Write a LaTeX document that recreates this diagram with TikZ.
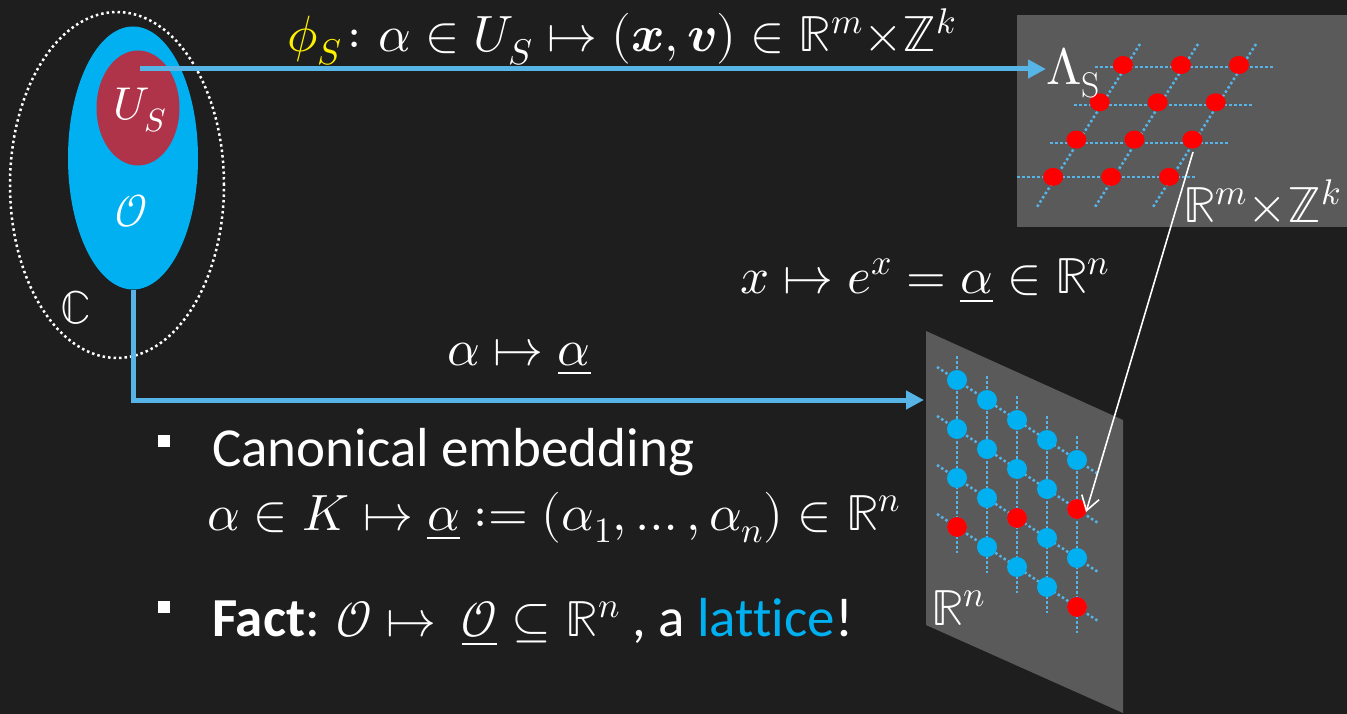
\documentclass[tikz,border=0pt]{standalone}
\usepackage{fontspec}
\usepackage{unicode-math}
\setmathfont{Latin Modern Math}
\setsansfont{Carlito}[Ligatures=NoCommon]
\usetikzlibrary{arrows.meta,shapes.geometric}
\definecolor{bg}{RGB}{30,30,30}
\definecolor{cyanb}{RGB}{0,176,240}
\definecolor{arr}{RGB}{86,180,230}
\definecolor{panel}{RGB}{90,90,90}
\definecolor{usred}{RGB}{176,52,73}
\definecolor{dotred}{RGB}{255,0,0}
\newcommand\mymath[1]{{\fontsize{51}{60}\selectfont$#1$}}
\begin{document}
\begin{tikzpicture}[x=1pt,y=-1pt,
  mathtxt/.style={text=white,inner sep=0pt,font=\fontsize{51}{60}\selectfont},
  setlab/.style={text=white,inner sep=0pt,font=\fontsize{46}{55}\selectfont},
  sanstxt/.style={text=white,inner sep=0pt,font=\sffamily\fontsize{55}{64}\selectfont},
  conn/.style={draw=arr,line width=5pt,-{Triangle[length=18pt,width=18pt]}},
  gridline/.style={draw=arr,line width=2.5pt,dash pattern=on 2.5pt off 2.5pt},
  bullet/.style={fill=white,minimum size=12pt,inner sep=0pt}]
\useasboundingbox (0,0) rectangle (1347,714);
\fill[bg] (0,0) rectangle (1347,714);
% left sets
\node[draw=white, line width=2.5pt, dash pattern=on 2.5pt off 3pt, ellipse, minimum width=214pt, minimum height=346pt, inner sep=0pt] (Cset) at (117,185) {};
\node[ellipse, fill=cyanb, minimum width=130pt, minimum height=263pt, inner sep=0pt] (O) at (133,158) {};
\node[ellipse, fill=usred, minimum width=83pt, minimum height=115pt, inner sep=0pt] (U) at (138,108) {};
\node[setlab, anchor=base west] (Ulab) at (113,120) {$U_S$};
\node[setlab, anchor=base west] (Olab) at (115,227) {$\mathcal{O}$};
\node[setlab, anchor=base west] (Clab) at (60,323) {$\mathbb{C}$};
% top-right panel
\fill[panel] (1017,15) rectangle (1347,227);
\draw[gridline] (1095,67) -- (1273,67);
\draw[gridline] (1074,105) -- (1252,105);
\draw[gridline] (1050,143) -- (1228,143);
\draw[gridline] (1017,177) -- (1195,177);
\foreach \j in {0,1,2}{\draw[gridline] (1140+58*\j,44) -- (1037+58*\j,207);}
\foreach \i in {0,...,3}{\foreach \j in {0,1,2}{\fill[dotred] (1123+58*\j-23.3*\i, 65+37.3*\i) ellipse (10 and 9);}}
\node[mathtxt, anchor=base west] (Lam) at (1046,85) {$\Lambda_{\mathrm{S}}$};
\node[mathtxt, anchor=base west] (Rmz) at (1183,223) {$\mathbb{R}^m{\times}\mathbb{Z}^k$};
% bottom-right panel
\fill[panel] (926,331) -- (1123,420) -- (1123,713) -- (926,625) -- cycle;
\foreach \j in {0,...,4}{\draw[gridline] (957+30*\j,356+20*\j) -- (957+30*\j,553+20*\j);}
\foreach \i in {0,...,3}{\draw[gridline] (937,367+49*\i) -- (1098,474+49*\i);}
\foreach \j in {0,...,4}{\foreach \i in {0,...,3}{\fill[cyanb] (957+30*\j, 380+20*\j+49*\i) circle (10);}}
\fill[dotred] (957,527) circle (10);
\fill[dotred] (1017,518) circle (10);
\fill[dotred] (1077,509) circle (10);
\fill[dotred] (1077,607) circle (10);
\node[mathtxt, anchor=base west] (Rn) at (931,625) {$\mathbb{R}^n$};
% connectors
\coordinate (src) at (140,69);
\draw[conn] (src) -- (src -| Lam.west);
\coordinate (emb) at (924,400);
\draw[conn] (O.south) |- (emb);
\coordinate (ls) at (1193,152);
\coordinate (rn) at (1086,512);
\draw[white, line width=1.6pt, -{Straight Barb[length=14pt,width=18pt]}] (ls) -- (rn);
% labels
\node[mathtxt, anchor=base west] (phi) at (287,52) {${\color{yellow}\phi_S}\colon \alpha\in U_S\mapsto(\symbfit{x},\symbfit{v})\in\mathbb{R}^m{\times}\mathbb{Z}^k$};
\node[mathtxt, anchor=base west] (amap) at (447,365) {$\alpha\mapsto\underline{\alpha}$};
\node[mathtxt, anchor=base west] (emap) at (740,293) {$x\mapsto e^x=\underline{\alpha}\in\mathbb{R}^n$};
% bullets
\node[bullet] (b1) at (164,441) {};
\node[sanstxt, anchor=base west] (t1) at (212,466) {Canonical embedding};
\node[mathtxt, anchor=base west] (t2) at (207,530) {$\alpha\in K\mapsto\underline{\alpha}\mathrel{{:}{=}}(\alpha_1,\dots,\alpha_n)\in\mathbb{R}^n$};
\node[bullet] (b2) at (164,607) {};
\node[sanstxt, anchor=base west] (t3) at (212,636) {\textbf{Fact}: \mymath{\mathcal{O}\mapsto\ \underline{\mathcal{O}}\subseteq\mathbb{R}^n} , a \textcolor{cyanb}{lattice}!};
\end{tikzpicture}
\end{document}
